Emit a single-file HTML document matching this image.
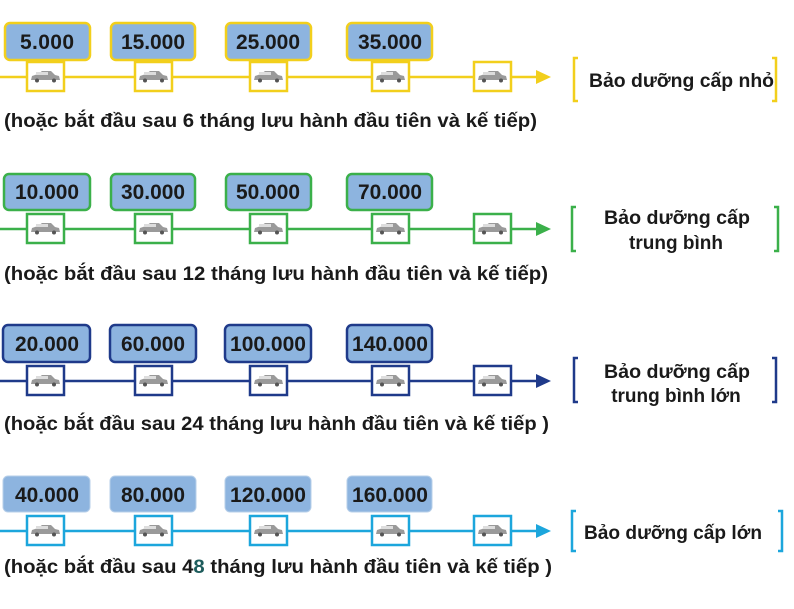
<!DOCTYPE html>
<html><head><meta charset="utf-8"><style>
body{margin:0;background:#fff}
text{font-family:"Liberation Sans","DejaVu Sans",sans-serif;font-weight:bold;fill:#1a1a1a}
</style></head><body>
<svg width="794" height="604" viewBox="0 0 794 604" xmlns="http://www.w3.org/2000/svg">
<defs>
<g id="car"><path d="M-14,3 L-13,-1 L-7,-3 L-3,-6 L6,-6 L10,-2 L14,-1 L15,3 Z" fill="#9a9a9a"/><rect x="-9" y="-5" width="12" height="3" fill="#ddd"/><circle cx="-8" cy="3.5" r="2" fill="#555"/><circle cx="9" cy="3.5" r="2" fill="#555"/></g>
</defs>

<!-- Row 1 yellow -->
<g stroke="#f2cf1c" stroke-width="2.5" fill="#8db4df">
<line x1="0" y1="77" x2="540" y2="77"/>
<rect x="5" y="23" width="85" height="37" rx="5"/><rect x="111" y="23" width="84" height="37" rx="5"/><rect x="226" y="23" width="85" height="37" rx="5"/><rect x="347" y="23" width="85" height="37" rx="5"/>
<g fill="#fff"><rect x="27" y="62" width="37" height="29"/><rect x="135" y="62" width="37" height="29"/><rect x="250" y="62" width="37" height="29"/><rect x="372" y="62" width="37" height="29"/><rect x="474" y="62" width="37" height="29"/></g>
<path d="M578,58 h-4 v43 h4 M772,58 h4 v43 h-4" fill="none"/>
</g>
<path d="M536,70 L551,77 L536,84 Z" fill="#f2cf1c"/>
<g font-size="21" text-anchor="middle" lengthAdjust="spacingAndGlyphs"><text x="47" y="49" textLength="54">5.000</text><text x="153" y="49" textLength="64">15.000</text><text x="268" y="49" textLength="64">25.000</text><text x="390" y="49" textLength="64">35.000</text></g>
<text x="589" y="87" font-size="19" textLength="185" lengthAdjust="spacingAndGlyphs">Bảo dưỡng cấp nhỏ</text>
<text x="4" y="127" font-size="19" textLength="533" lengthAdjust="spacingAndGlyphs">(hoặc bắt đầu sau 6 tháng lưu hành đầu tiên và kế tiếp)</text>

<!-- Row 2 green -->
<g stroke="#3bb04a" stroke-width="2.5" fill="#8db4df">
<line x1="0" y1="229" x2="540" y2="229"/>
<rect x="4" y="174" width="86" height="36" rx="5"/><rect x="111" y="174" width="84" height="36" rx="5"/><rect x="226" y="174" width="85" height="36" rx="5"/><rect x="347" y="174" width="85" height="36" rx="5"/>
<g fill="#fff"><rect x="27" y="214" width="37" height="29"/><rect x="135" y="214" width="37" height="29"/><rect x="250" y="214" width="37" height="29"/><rect x="372" y="214" width="37" height="29"/><rect x="474" y="214" width="37" height="29"/></g>
<path d="M576,207 h-4 v44 h4 M774,207 h4 v44 h-4" fill="none"/>
</g>
<path d="M536,222 L551,229 L536,236 Z" fill="#3bb04a"/>
<g font-size="21" text-anchor="middle"><text x="47" y="199" textLength="64" lengthAdjust="spacingAndGlyphs">10.000</text><text x="153" y="199" textLength="64" lengthAdjust="spacingAndGlyphs">30.000</text><text x="268" y="199" textLength="64" lengthAdjust="spacingAndGlyphs">50.000</text><text x="390" y="199" textLength="64" lengthAdjust="spacingAndGlyphs">70.000</text></g>
<text x="604" y="224" font-size="19" textLength="146" lengthAdjust="spacingAndGlyphs">Bảo dưỡng cấp</text>
<text x="676" y="249" font-size="19" text-anchor="middle">trung bình</text>
<text x="4" y="280" font-size="19" textLength="544" lengthAdjust="spacingAndGlyphs">(hoặc bắt đầu sau 12 tháng lưu hành đầu tiên và kế tiếp)</text>

<!-- Row 3 navy -->
<g stroke="#1f3a8a" stroke-width="2.5" fill="#8db4df">
<line x1="0" y1="381" x2="540" y2="381"/>
<rect x="3" y="325" width="87" height="37" rx="5"/><rect x="110" y="325" width="86" height="37" rx="5"/><rect x="225" y="325" width="86" height="37" rx="5"/><rect x="347" y="325" width="85" height="37" rx="5"/>
<g fill="#fff"><rect x="27" y="366" width="37" height="29"/><rect x="135" y="366" width="37" height="29"/><rect x="250" y="366" width="37" height="29"/><rect x="372" y="366" width="37" height="29"/><rect x="474" y="366" width="37" height="29"/></g>
<path d="M578,358 h-4 v44 h4 M772,358 h4 v44 h-4" fill="none"/>
</g>
<path d="M536,374 L551,381 L536,388 Z" fill="#1f3a8a"/>
<g font-size="21" text-anchor="middle"><text x="47" y="351" textLength="64" lengthAdjust="spacingAndGlyphs">20.000</text><text x="153" y="351" textLength="64" lengthAdjust="spacingAndGlyphs">60.000</text><text x="268" y="351" textLength="76" lengthAdjust="spacingAndGlyphs">100.000</text><text x="390" y="351" textLength="76" lengthAdjust="spacingAndGlyphs">140.000</text></g>
<text x="604" y="378" font-size="19" textLength="146" lengthAdjust="spacingAndGlyphs">Bảo dưỡng cấp</text>
<text x="676" y="402" font-size="19" text-anchor="middle">trung bình lớn</text>
<text x="4" y="430" font-size="19" textLength="545" lengthAdjust="spacingAndGlyphs">(hoặc bắt đầu sau 24 tháng lưu hành đầu tiên và kế tiếp )</text>

<!-- Row 4 cyan -->
<g stroke="#1ca6dc" stroke-width="2.5" fill="#8db4df">
<line x1="0" y1="531" x2="540" y2="531"/>
<g stroke="#b7cfe9" stroke-width="1"><rect x="3" y="476" width="87" height="36" rx="5"/><rect x="110" y="476" width="86" height="36" rx="5"/><rect x="225" y="476" width="86" height="36" rx="5"/><rect x="347" y="476" width="85" height="36" rx="5"/></g>
<g fill="#fff"><rect x="27" y="516" width="37" height="29"/><rect x="135" y="516" width="37" height="29"/><rect x="250" y="516" width="37" height="29"/><rect x="372" y="516" width="37" height="29"/><rect x="474" y="516" width="37" height="29"/></g>
<path d="M576,511 h-4 v40 h4 M778,511 h4 v40 h-4" fill="none"/>
</g>
<path d="M536,524 L551,531 L536,538 Z" fill="#1ca6dc"/>
<g font-size="21" text-anchor="middle"><text x="47" y="502" textLength="64" lengthAdjust="spacingAndGlyphs">40.000</text><text x="153" y="502" textLength="64" lengthAdjust="spacingAndGlyphs">80.000</text><text x="268" y="502" textLength="76" lengthAdjust="spacingAndGlyphs">120.000</text><text x="390" y="502" textLength="76" lengthAdjust="spacingAndGlyphs">160.000</text></g>
<text x="584" y="539" font-size="19" textLength="178" lengthAdjust="spacingAndGlyphs">Bảo dưỡng cấp lớn</text>
<text x="4" y="573" font-size="19" textLength="548" lengthAdjust="spacingAndGlyphs">(hoặc bắt đầu sau 4<tspan fill="#1d5b5b">8</tspan> tháng lưu hành đầu tiên và kế tiếp )</text>

<!-- cars -->
<g>
<use href="#car" x="45" y="77"/><use href="#car" x="153" y="77"/><use href="#car" x="268" y="77"/><use href="#car" x="390" y="77"/><use href="#car" x="492" y="77"/>
<use href="#car" x="45" y="229"/><use href="#car" x="153" y="229"/><use href="#car" x="268" y="229"/><use href="#car" x="390" y="229"/><use href="#car" x="492" y="229"/>
<use href="#car" x="45" y="381"/><use href="#car" x="153" y="381"/><use href="#car" x="268" y="381"/><use href="#car" x="390" y="381"/><use href="#car" x="492" y="381"/>
<use href="#car" x="45" y="531"/><use href="#car" x="153" y="531"/><use href="#car" x="268" y="531"/><use href="#car" x="390" y="531"/><use href="#car" x="492" y="531"/>
</g>
</svg>
</body></html>
